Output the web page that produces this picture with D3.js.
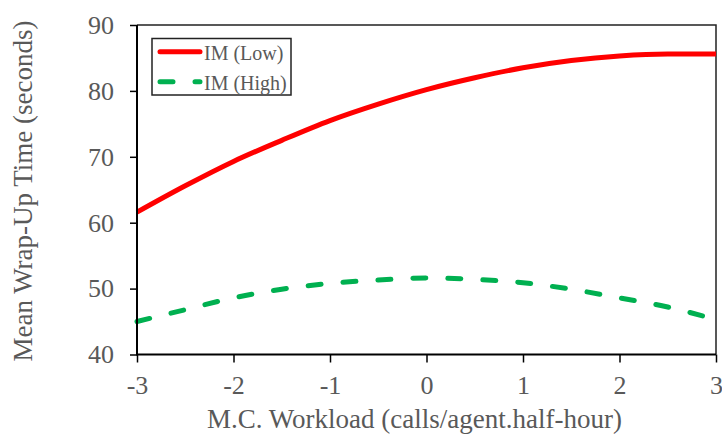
<!DOCTYPE html>
<html>
<head>
<meta charset="utf-8">
<script src="https://cdn.jsdelivr.net/npm/d3@7"></script>
<style>
  html, body { margin: 0; padding: 0; background: #fff; }
  svg { display: block; }
  text { font-family: "Liberation Serif", "Times New Roman", serif; fill: #595959; }
</style>
</head>
<body>
<svg id="chart" width="722" height="443"></svg>
<script>
// Workload (standardised) along the x axis
const workload = [-3, -2.5, -2, -1.5, -1, -0.5, 0, 0.5, 1, 1.5, 2, 2.5, 3];
// Mean wrap-up time (seconds) for each IM level
const imLow  = [61.6, 65.6, 69.3, 72.5, 75.5, 78.0, 80.2, 82.0, 83.5, 84.6, 85.3, 85.6, 85.6];
const imHigh = [45.0, 46.8, 48.6, 49.9, 50.8, 51.3, 51.6, 51.4, 50.9, 49.9, 48.6, 47.2, 45.3];
const xTicks = [-3, -2, -1, 0, 1, 2, 3];
const yTicks = [40, 50, 60, 70, 80, 90];
const seriesNames = ["IM (Low)", "IM (High)"];

const svg = d3.select("#chart");
const m = { left: 137, right: 716, top: 25, bottom: 354.5 };

const x = d3.scaleLinear().domain([-3, 3]).range([m.left, m.right]);
const y = d3.scaleLinear().domain([40, 90]).range([m.bottom, m.top]);

// plot frame (top and right edges)
svg.append("path")
  .attr("d", `M${m.left},${m.top}H${m.right}V${m.bottom}`)
  .attr("fill", "none").attr("stroke", "#222").attr("stroke-width", 1.5);

const line = d3.line().x((d, i) => x(workload[i])).y(d => y(d)).curve(d3.curveMonotoneX);

svg.append("path").datum(imLow)
  .attr("d", line).attr("fill", "none")
  .attr("stroke", "#FF0000").attr("stroke-width", 5);

svg.append("path").datum(imHigh)
  .attr("d", line).attr("fill", "none")
  .attr("stroke", "#00B050").attr("stroke-width", 5)
  .attr("stroke-linecap", "round").attr("stroke-dasharray", "13 22");

// axes
const xAxis = svg.append("g").attr("transform", `translate(0,${m.bottom})`)
  .call(d3.axisBottom(x).tickValues(xTicks).tickSize(8).tickPadding(13).tickFormat(d3.format("d")));
const yAxis = svg.append("g").attr("transform", `translate(${m.left},0)`)
  .call(d3.axisLeft(y).tickValues(yTicks).tickSize(7).tickPadding(16));

[xAxis, yAxis].forEach(g => {
  g.select(".domain").attr("stroke", "#000").attr("stroke-width", 2);
  g.selectAll(".tick line").attr("stroke", "#000").attr("stroke-width", 1.5);
  g.selectAll(".tick text").attr("fill", "#595959")
    .style("font-family", '"Liberation Serif", serif').style("font-size", "26px");
});
xAxis.selectAll(".tick text").text(d => d < 0 ? "-" + Math.abs(d) : d);
yAxis.select(".domain").attr("d", `M0,${m.bottom + 1}V${m.top}`);
xAxis.select(".domain").attr("d", `M${m.left},0H${m.right}`);

// axis titles
svg.append("text")
  .attr("x", 414.5).attr("y", 428)
  .attr("text-anchor", "middle").style("font-size", "27px")
  .text("M.C. Workload (calls/agent.half-hour)");

svg.append("text")
  .attr("transform", "translate(32,191) rotate(-90)")
  .attr("text-anchor", "middle").style("font-size", "27px")
  .text("Mean Wrap-Up Time (seconds)");

// legend
const lg = svg.append("g");
lg.append("rect").attr("x", 152).attr("y", 38.5).attr("width", 139).attr("height", 56.5)
  .attr("fill", "#fff").attr("stroke", "#222").attr("stroke-width", 1.5);
const legendY = [51.7, 81.7];
lg.append("line").attr("x1", 160).attr("x2", 200).attr("y1", legendY[0]).attr("y2", legendY[0])
  .attr("stroke", "#FF0000").attr("stroke-width", 5).attr("stroke-linecap", "round");
lg.append("line").attr("x1", 160).attr("x2", 200).attr("y1", legendY[1]).attr("y2", legendY[1])
  .attr("stroke", "#00B050").attr("stroke-width", 5).attr("stroke-linecap", "round")
  .attr("stroke-dasharray", "13 22");
seriesNames.forEach((name, i) => {
  lg.append("text").attr("x", 204).attr("y", legendY[i] + 8)
    .style("font-size", "20px").text(name);
});
</script>
</body>
</html>
